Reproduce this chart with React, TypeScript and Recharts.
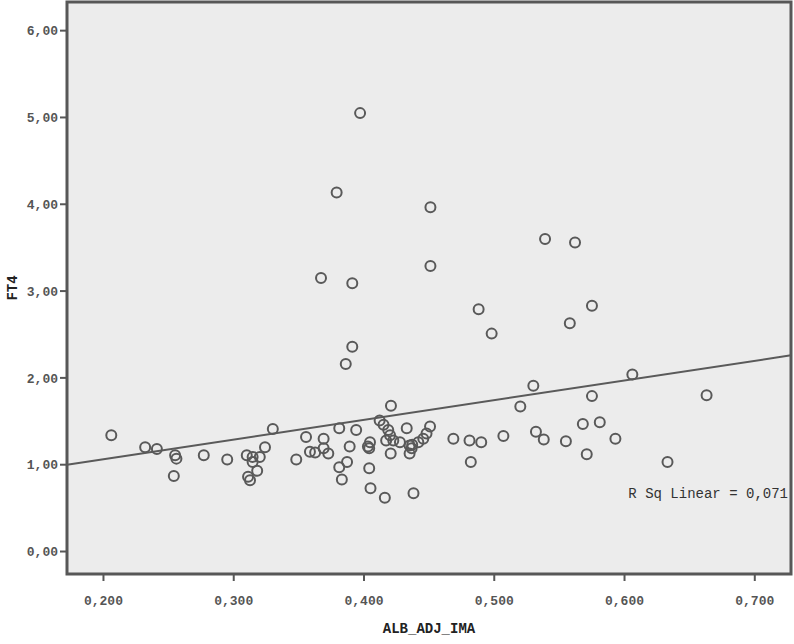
import React from "react"
import {
  ScatterChart,
  Scatter,
  XAxis,
  YAxis,
  ReferenceArea,
  ReferenceLine,
  ReferenceDot,
} from "recharts"

// ALB_ADJ_IMA values (x)
const albAdjIma = [
  0.206, 0.232, 0.241, 0.255, 0.256, 0.254, 0.277, 0.295, 0.31, 0.3145,
  0.3145, 0.32, 0.324, 0.33, 0.318, 0.311, 0.3125, 0.348, 0.3555, 0.3585,
  0.3625, 0.369, 0.369, 0.3726, 0.381, 0.394, 0.389, 0.387, 0.381, 0.383,
  0.404, 0.404, 0.405, 0.416, 0.403, 0.4046, 0.4207, 0.412, 0.415, 0.4186,
  0.42, 0.4328, 0.417, 0.4225, 0.4276, 0.435, 0.4366, 0.437, 0.435, 0.4205,
  0.438, 0.4417, 0.4455, 0.448, 0.4507, 0.4686, 0.481, 0.49, 0.482, 0.507,
  0.52, 0.53, 0.532, 0.538, 0.555, 0.568, 0.581, 0.571, 0.575, 0.593,
  0.606, 0.633, 0.663,
  0.397, 0.379, 0.451, 0.539, 0.562, 0.451, 0.367, 0.391, 0.488, 0.575,
  0.558, 0.498, 0.391, 0.386,
]

// FT4 values (y)
const ft4 = [
  1.34, 1.2, 1.18, 1.11, 1.07, 0.87, 1.11, 1.06, 1.11, 1.09,
  1.03, 1.09, 1.2, 1.41, 0.93, 0.86, 0.82, 1.06, 1.32, 1.15,
  1.14, 1.3, 1.19, 1.13, 1.42, 1.4, 1.21, 1.03, 0.97, 0.83,
  1.19, 0.96, 0.73, 0.62, 1.21, 1.26, 1.68, 1.51, 1.46, 1.4,
  1.34, 1.42, 1.28, 1.28, 1.26, 1.22, 1.19, 1.23, 1.13, 1.13,
  0.67, 1.26, 1.3, 1.36, 1.44, 1.3, 1.28, 1.26, 1.03, 1.33,
  1.67, 1.91, 1.38, 1.29, 1.27, 1.47, 1.49, 1.12, 1.79, 1.3,
  2.04, 1.03, 1.8,
  5.05, 4.135, 3.965, 3.6, 3.56, 3.29, 3.15, 3.09, 2.79, 2.83,
  2.63, 2.51, 2.36, 2.16,
]

const xTicks = [0.2, 0.3, 0.4, 0.5, 0.6, 0.7]
const yTicks = [0, 1, 2, 3, 4, 5, 6]
const xDomain = [0.172, 0.7278]
const yDomain = [-0.259, 6.33]

// linear fit line, read at both plot edges
const fitX = [0.172, 0.7278]
const fitY = [1.0, 2.26]

const points = albAdjIma.map((x, i) => ({ x, y: ft4[i] }))

const mono = "'Liberation Mono', 'DejaVu Sans Mono', monospace"
const axisGray = "#575757"

const Ring = (props: any) => (
  <circle cx={props.cx} cy={props.cy} r={5} fill="none" stroke="#595959" strokeWidth={2} />
)

const YTitle = (props: any) => {
  const { viewBox } = props
  const cy = viewBox.y + viewBox.height / 2
  return (
    <text
      x={13}
      y={cy}
      transform={`rotate(-90, 13, ${cy})`}
      textAnchor="middle"
      dominantBaseline="central"
      fill="#222"
      fontSize={14}
      fontFamily={mono}
      fontWeight="bold"
    >
      FT4
    </text>
  )
}

export default function App() {
  return (
    <div style={{ position: "absolute", left: 0, top: 0, width: 794, height: 644, background: "#fff" }}>
      <ScatterChart width={794} height={644} margin={{ top: 2, right: 3, bottom: 0, left: 0 }}>
        <ReferenceArea
          x1={xDomain[0]}
          x2={xDomain[1]}
          y1={yDomain[0]}
          y2={yDomain[1]}
          fill="#ececec"
          fillOpacity={1}
          stroke={axisGray}
          strokeWidth={3}
          ifOverflow="visible"
        />
        <XAxis
          type="number"
          dataKey="x"
          domain={xDomain}
          ticks={xTicks}
          allowDataOverflow
          height={70}
          axisLine={false}
          tickSize={7}
          tickLine={{ stroke: axisGray, strokeWidth: 2 }}
          tickMargin={15}
          tick={{ fill: "#555", fontSize: 13, fontFamily: mono, fontWeight: "bold" }}
          tickFormatter={(v: number) => v.toFixed(3).replace(".", ",")}
          label={{
            value: "ALB_ADJ_IMA",
            position: "insideBottom",
            offset: 11,
            fill: "#222",
            fontSize: 14,
            fontFamily: mono,
            fontWeight: "bold",
          }}
        />
        <YAxis
          type="number"
          dataKey="y"
          domain={yDomain}
          ticks={yTicks}
          allowDataOverflow
          width={67}
          axisLine={false}
          tickSize={7}
          tickLine={{ stroke: axisGray, strokeWidth: 2 }}
          tickMargin={2}
          tick={{ fill: "#555", fontSize: 13, fontFamily: mono, fontWeight: "bold" }}
          tickFormatter={(v: number) => v.toFixed(2).replace(".", ",")}
          label={<YTitle />}
        />
        <ReferenceLine
          segment={[
            { x: fitX[0], y: fitY[0] },
            { x: fitX[1], y: fitY[1] },
          ]}
          stroke="#5a5a5a"
          strokeWidth={2}
          ifOverflow="visible"
        />
        <Scatter data={points} shape={Ring} isAnimationActive={false} />
        <ReferenceDot
          x={0.7255}
          y={0.674}
          r={0}
          fill="none"
          stroke="none"
          label={{
            value: "R Sq Linear = 0,071",
            position: "left",
            offset: 0,
            fill: "#333",
            fontSize: 14,
            fontFamily: mono,
          }}
        />
      </ScatterChart>
    </div>
  )
}
